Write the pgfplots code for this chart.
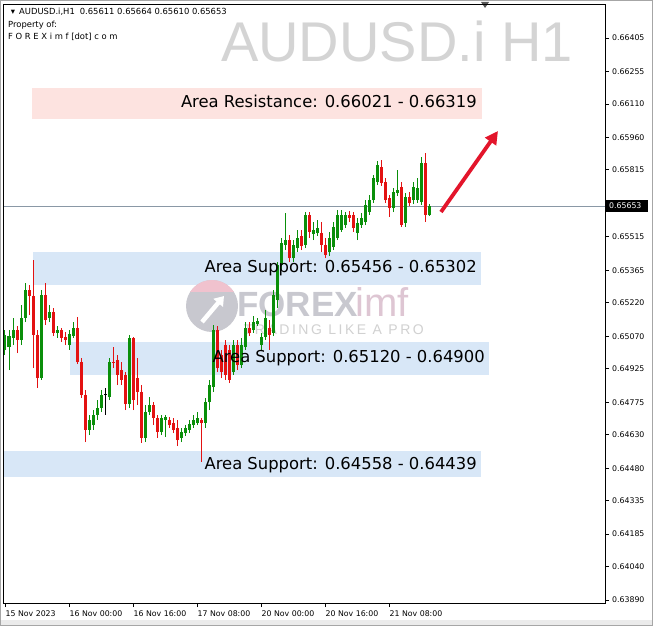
\documentclass[border=0pt]{standalone}
\usepackage{pgfplots}
\pgfplotsset{compat=1.18}
\usepackage{pgfplotstable}
\usetikzlibrary{arrows.meta}
\usepackage{fontspec}
\setmainfont{DejaVu Sans}
\newfontfamily\wmfont{Liberation Sans}
\newfontfamily\lspfont[LetterSpace=18]{Liberation Sans}

\definecolor{bullc}{HTML}{0A8F0A}
\definecolor{bearc}{HTML}{E31212}
\definecolor{resc}{HTML}{FDE3E0}
\definecolor{supc}{HTML}{D8E7F7}
\definecolor{wmc}{HTML}{D4D4D4}
\definecolor{pricec}{HTML}{8A98A6}
\definecolor{arrowc}{HTML}{E3152B}
\definecolor{logog}{HTML}{C8C8CF}
\definecolor{logop}{HTML}{F0C2CE}
\definecolor{logot}{HTML}{DEC6D3}

% x = bar index (H1), o h l c = open high low close
\pgfplotstableread{
x o h l c
0 0.65009 0.65098 0.64986 0.65076
1 0.65022 0.65098 0.64919 0.65071
2 0.65063 0.65152 0.65031 0.65098
4 0.65054 0.65210 0.65031 0.65152
5 0.65152 0.65309 0.65134 0.65277
9 0.64883 0.65277 0.64875 0.65255
11 0.65152 0.65210 0.65134 0.65179
13 0.65085 0.65116 0.65063 0.65098
16 0.65031 0.65098 0.65009 0.65080
17 0.65071 0.65134 0.65063 0.65107
21 0.64651 0.64718 0.64628 0.64696
22 0.64673 0.64740 0.64651 0.64718
23 0.64718 0.64785 0.64696 0.64749
24 0.64749 0.64830 0.64731 0.64807
26 0.64798 0.64973 0.64785 0.64955
31 0.64767 0.65076 0.64749 0.65063
35 0.64615 0.64763 0.64597 0.64731
36 0.64731 0.64798 0.64718 0.64763
39 0.64642 0.64718 0.64628 0.64705
40 0.64696 0.64718 0.64619 0.64709
44 0.64615 0.64660 0.64597 0.64642
45 0.64637 0.64673 0.64624 0.64660
46 0.64651 0.64696 0.64637 0.64678
47 0.64673 0.64718 0.64660 0.64696
48 0.64682 0.64731 0.64673 0.64705
50 0.64682 0.64794 0.64660 0.64776
51 0.64776 0.64875 0.64740 0.64852
52 0.64843 0.65121 0.64821 0.65098
57 0.64910 0.65054 0.64897 0.65031
59 0.64942 0.65063 0.64928 0.65031
60 0.65022 0.65134 0.65009 0.65107
62 0.65098 0.65161 0.65085 0.65134
63 0.65125 0.65152 0.65116 0.65139
64 0.65031 0.65085 0.65009 0.65067
65 0.65067 0.65188 0.65054 0.65152
67 0.65085 0.65277 0.65071 0.65255
68 0.65233 0.65403 0.65197 0.65389
69 0.65389 0.65510 0.65367 0.65488
70 0.65479 0.65622 0.65456 0.65501
72 0.65420 0.65501 0.65403 0.65479
73 0.65465 0.65546 0.65447 0.65510
75 0.65479 0.65626 0.65465 0.65613
77 0.65528 0.65582 0.65501 0.65546
78 0.65532 0.65591 0.65519 0.65555
81 0.65447 0.65537 0.65429 0.65510
82 0.65470 0.65582 0.65456 0.65559
83 0.65510 0.65635 0.65501 0.65613
84 0.65546 0.65635 0.65537 0.65613
85 0.65568 0.65626 0.65555 0.65613
88 0.65532 0.65600 0.65501 0.65577
89 0.65568 0.65622 0.65555 0.65600
90 0.65582 0.65680 0.65568 0.65658
91 0.65626 0.65702 0.65613 0.65680
92 0.65680 0.65792 0.65667 0.65778
93 0.65761 0.65855 0.65747 0.65837
97 0.65644 0.65734 0.65626 0.65716
98 0.65711 0.65814 0.65698 0.65725
100 0.65577 0.65711 0.65559 0.65693
102 0.65680 0.65761 0.65662 0.65738
103 0.65680 0.65778 0.65667 0.65734
104 0.65671 0.65872 0.65658 0.65846
106 0.65611 0.65664 0.65610 0.65653
}\bulltab

\pgfplotstableread{
x o h l c
3 0.65098 0.65116 0.64995 0.65054
6 0.65277 0.65300 0.65165 0.65250
7 0.65250 0.65412 0.64928 0.65076
8 0.65076 0.65098 0.64839 0.64883
10 0.65255 0.65309 0.65121 0.65143
12 0.65179 0.65197 0.65071 0.65085
14 0.65098 0.65107 0.65045 0.65063
15 0.65067 0.65089 0.65031 0.65054
18 0.65107 0.65156 0.64946 0.64955
19 0.64955 0.64973 0.64794 0.64807
20 0.64807 0.64830 0.64597 0.64651
27 0.64955 0.65022 0.64928 0.64951
28 0.64964 0.64986 0.64852 0.64897
29 0.64919 0.64955 0.64852 0.64875
30 0.64897 0.64910 0.64740 0.64767
32 0.65063 0.65067 0.64740 0.64785
33 0.64883 0.64973 0.64763 0.64821
34 0.64821 0.64852 0.64593 0.64615
37 0.64763 0.64776 0.64673 0.64705
38 0.64705 0.64718 0.64615 0.64642
41 0.64696 0.64709 0.64660 0.64673
42 0.64682 0.64705 0.64637 0.64651
43 0.64660 0.64696 0.64579 0.64606
49 0.64696 0.64705 0.64508 0.64682
53 0.65098 0.65116 0.64910 0.64928
54 0.64986 0.65009 0.64883 0.64910
55 0.65031 0.65054 0.64875 0.64897
56 0.65009 0.65031 0.64861 0.64875
58 0.65031 0.65054 0.64919 0.64942
61 0.65107 0.65134 0.65071 0.65085
66 0.65107 0.65143 0.65009 0.65076
71 0.65501 0.65523 0.65403 0.65420
74 0.65519 0.65546 0.65456 0.65474
76 0.65613 0.65626 0.65510 0.65537
79 0.65532 0.65582 0.65447 0.65479
80 0.65479 0.65510 0.65420 0.65434
86 0.65613 0.65631 0.65582 0.65600
87 0.65613 0.65626 0.65537 0.65555
94 0.65828 0.65859 0.65743 0.65756
95 0.65761 0.65778 0.65667 0.65680
96 0.65689 0.65702 0.65604 0.65644
99 0.65738 0.65761 0.65559 0.65568
101 0.65693 0.65716 0.65653 0.65667
105 0.65846 0.65890 0.65582 0.65613
}\beartab

\pgfplotstableread{
x o h l c
25 0.64807 0.64839 0.64718 0.64812
}\dojitab

\pgfplotsset{
  candle/.style 2 args={draw=none, mark=none, forget plot,
    error bars/.cd, y dir=plus, y explicit, error mark=none,
    error bar style={draw=#1, solid, line width=#2}},
}

\begin{document}
\begin{tikzpicture}
% background, in pixel coordinates (y down)
\begin{scope}[x=1pt,y=-1pt]
  \fill[white] (0,0) rectangle (653,626);
  \fill[black!8] (0,620) rectangle (653,626);
  \draw[black!35, line width=1pt] (0.5,0.5) rectangle (652.5,625.5);
  \node[anchor=base east, inner sep=0pt, text=wmc, font=\wmfont\fontsize{56}{60}\selectfont] at (573,62) {AUDUSD.i H1};
  \fill[resc] (32,88) rectangle (482,119);
  \fill[supc] (33,252) rectangle (481,285);
  \fill[supc] (70,342) rectangle (489,375);
  \fill[supc] (4,451) rectangle (481,477);
  % logo watermark
  \fill[logog] (212,306) circle (26);
  \begin{scope}
    \clip (212,306) circle (26);
    \fill[logop] (180,270) rectangle (240,292);
  \end{scope}
  \draw[white, line width=4.5pt, -{Triangle[length=9pt,width=12pt]}] (202,322) -- (224,296);
  \node[anchor=west, inner sep=0pt, text=logog, font=\wmfont\bfseries\fontsize{35}{40}\selectfont] at (237,304) {FOREX};
  \node[anchor=west, inner sep=0pt, text=logot, font=\wmfont\fontsize{40}{44}\selectfont] at (355,302) {imf};
  \node[anchor=east, inner sep=0pt, text=black!18, font=\lspfont\fontsize{14}{16}\selectfont] at (424,330) {TRADING LIKE A PRO};
  \draw[pricec, line width=0.8pt] (4,206) -- (605,206);
  \fill[black!65] (481,2) -- (489,2) -- (485,8) -- cycle;
\end{scope}

\begin{axis}[
  at={(4pt,-603pt)}, anchor=south west,
  scale only axis, width=601pt, height=599pt,
  xmin=-0.25, xmax=150,
  ymin=0.638766, ymax=0.665571,
  axis line style={black, line width=1pt},
  xtick={0,16,32,48,64,80,96},
  xticklabels={15 Nov 2023,16 Nov 00:00,16 Nov 16:00,17 Nov 08:00,20 Nov 00:00,20 Nov 16:00,21 Nov 08:00},
  ytick={0.66405,0.66255,0.66110,0.65960,0.65815,0.65515,0.65365,0.65220,0.65070,0.64925,0.64775,0.64630,0.64480,0.64335,0.64185,0.64040,0.63890},
  yticklabels={0.66405,0.66255,0.66110,0.65960,0.65815,0.65515,0.65365,0.65220,0.65070,0.64925,0.64775,0.64630,0.64480,0.64335,0.64185,0.64040,0.63890},
  xtick pos=left, ytick pos=right, yticklabel pos=right,
  tick align=outside, major tick length=4pt,
  tick style={black, line width=0.8pt},
  yticklabel style={font=\fontsize{7.8}{9}\selectfont, anchor=west, inner sep=0pt, xshift=3pt},
  xticklabel style={font=\fontsize{7.8}{9}\selectfont, anchor=north west, inner sep=0pt, xshift=0.5pt, yshift=-4pt},
]
% wicks
\addplot[candle={bullc}{1pt}] table[x=x, y=l, y error expr=\thisrow{h}-\thisrow{l}] {\bulltab};
\addplot[candle={bearc}{1pt}] table[x=x, y=l, y error expr=\thisrow{h}-\thisrow{l}] {\beartab};
\addplot[candle={black}{1pt}] table[x=x, y=l, y error expr=\thisrow{h}-\thisrow{l}] {\dojitab};
% bodies
\addplot[candle={bullc}{3pt}] table[x=x, y=o, y error expr=\thisrow{c}-\thisrow{o}] {\bulltab};
\addplot[candle={bearc}{3pt}] table[x=x, y=c, y error expr=\thisrow{o}-\thisrow{c}] {\beartab};
\addplot[candle={black}{3pt}] table[x=x, y=o, y error expr=\thisrow{c}-\thisrow{o}] {\dojitab};
\end{axis}

% foreground annotations
\begin{scope}[x=1pt,y=-1pt]
  \fill[black] (606,200) rectangle (648,212);
  \node[anchor=west, inner sep=0pt, text=white, font=\fontsize{7.8}{9}\selectfont] at (609,206) {0.65653};
  \node[anchor=east, inner sep=0pt, font=\fontsize{16.4}{18}\selectfont] at (477,101) {Area Resistance: 0.66021 - 0.66319};
  \node[anchor=east, inner sep=0pt, font=\fontsize{16.4}{18}\selectfont] at (477,268) {Area Support: 0.65456 - 0.65302};
  \node[anchor=east, inner sep=0pt, font=\fontsize{16.4}{18}\selectfont] at (485,358) {Area Support: 0.65120 - 0.64900};
  \node[anchor=east, inner sep=0pt, font=\fontsize{16.4}{18}\selectfont] at (477,465) {Area Support: 0.64558 - 0.64439};
  \draw[arrowc, line width=3.8pt, -{Triangle[length=13pt,width=13pt]}] (441,212) -- (498,131);
  \node[anchor=center, inner sep=0pt, font=\fontsize{8.4}{10}\selectfont] at (13,12) {▾};
  \node[anchor=west, inner sep=0pt, font=\fontsize{8.4}{10}\selectfont] at (19,12) {AUDUSD.i,H1\hspace{5pt}0.65611 0.65664 0.65610 0.65653};
  \node[anchor=west, inner sep=0pt, font=\fontsize{8.4}{10}\selectfont] at (8,25) {Property of:};
  \node[anchor=west, inner sep=0pt, font=\fontsize{8.4}{10}\selectfont] at (8,37) {F O R E X i m f [dot] c o m};
\end{scope}
\end{tikzpicture}
\end{document}
